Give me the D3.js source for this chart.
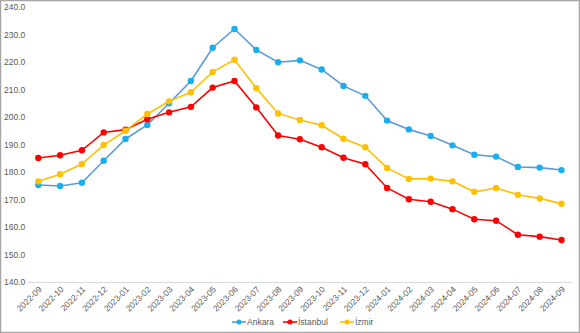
<!DOCTYPE html>
<html><head><meta charset="utf-8">
<script src="https://cdn.jsdelivr.net/npm/d3@7"></script>
<style>
html,body{margin:0;padding:0;background:#fff;}
svg{display:block;}
text{font-family:"Liberation Sans Narrow","Arial Narrow","Liberation Sans",sans-serif;fill:#595959;}
</style></head>
<body>
<svg id="c" width="580" height="333"></svg>
<script>
const categories = ["2022-09","2022-10","2022-11","2022-12","2023-01","2023-02","2023-03","2023-04","2023-05","2023-06","2023-07","2023-08","2023-09","2023-10","2023-11","2023-12","2024-01","2024-02","2024-03","2024-04","2024-05","2024-06","2024-07","2024-08","2024-09"];
const ankara   = [175.3,174.9,176.1,184.1,192.0,197.1,205.0,213.1,225.2,232.0,224.4,219.9,220.6,217.3,211.3,207.7,198.7,195.5,193.1,189.7,186.3,185.6,181.8,181.6,180.7];
const istanbul = [185.1,186.1,187.9,194.4,195.4,199.2,201.7,203.7,210.7,213.1,203.5,193.3,191.9,189.0,185.2,182.8,174.2,170.1,169.2,166.5,162.8,162.3,157.2,156.5,155.3];
const izmir    = [176.6,179.2,182.9,189.8,195.0,201.1,205.7,209.0,216.4,220.8,210.5,201.3,198.9,197.0,192.1,189.0,181.5,177.5,177.6,176.6,172.8,174.2,171.7,170.4,168.5];
const yTicks = [140,150,160,170,180,190,200,210,220,230,240];
const seriesNames = ["Ankara","İstanbul","İzmir"];

const series = [
  {name: seriesNames[0], values: ankara, line: "#5b9bd5", dot: "#1aaeef"},
  {name: seriesNames[1], values: istanbul, line: "#ff0000", dot: "#ff0000"},
  {name: seriesNames[2], values: izmir, line: "#ffc000", dot: "#ffc000"}
];

const svg = d3.select("#c");
const W = 580, H = 333;
svg.append("rect").attr("x",0.5).attr("y",0.5).attr("width",W-1).attr("height",H-1)
  .attr("fill","#fff").attr("stroke","#a6a6a6").attr("stroke-width",1.5);

const x = d3.scaleBand().domain(categories).range([27.4, 572.4]);
const y = d3.scaleLinear().domain([140,240]).range([282, 7]);

// y labels
const yAxis = d3.axisLeft(y).tickValues(yTicks).tickFormat(d3.format(".1f")).tickSize(0);
const gy = svg.append("g").attr("transform","translate(4,0)").call(yAxis);
gy.select(".domain").remove();
gy.selectAll("text").attr("text-anchor","start").attr("x",0).attr("dy","0.35em")
  .style("font-size","8.5px").style("fill","#595959");

// x axis
const xAxis = d3.axisBottom(x).tickSize(0).tickSizeOuter(0);
const gx = svg.append("g").attr("transform","translate(0,282)").call(xAxis);
gx.select(".domain").attr("stroke","#d9d9d9").attr("stroke-width",1);
gx.selectAll("text")
  .style("font-size","8.5px").style("fill","#595959")
  .attr("text-anchor","end")
  .attr("dy",0).attr("y",0)
  .attr("transform","translate(4,8) rotate(-45)");

const cx = d => x(d) + x.bandwidth()/2;
const line = d3.line().x((v,i)=>cx(categories[i])).y(v=>y(v));

series.forEach(s=>{
  svg.append("path").attr("d", line(s.values)).attr("fill","none")
    .attr("stroke", s.line).attr("stroke-width",1.6);
  svg.append("g").selectAll("circle").data(s.values).join("circle")
    .attr("cx",(v,i)=>cx(categories[i])).attr("cy",v=>y(v)).attr("r",3.2)
    .attr("fill", s.dot);
});

// legend
const legend = svg.append("g").attr("transform","translate(232,322)");
const offs = [0, 51, 108];
series.forEach((s,i)=>{
  const g = legend.append("g").attr("transform",`translate(${offs[i]},0)`);
  g.append("line").attr("x1",0).attr("x2",14).attr("y1",0).attr("y2",0)
    .attr("stroke", s.line).attr("stroke-width",1.6);
  g.append("circle").attr("cx",7).attr("cy",0).attr("r",2.5).attr("fill",s.dot);
  g.append("text").attr("x",15).attr("y",0).attr("dy","0.35em")
    .style("font-size","8.5px").text(s.name);
});
</script>
</body></html>
